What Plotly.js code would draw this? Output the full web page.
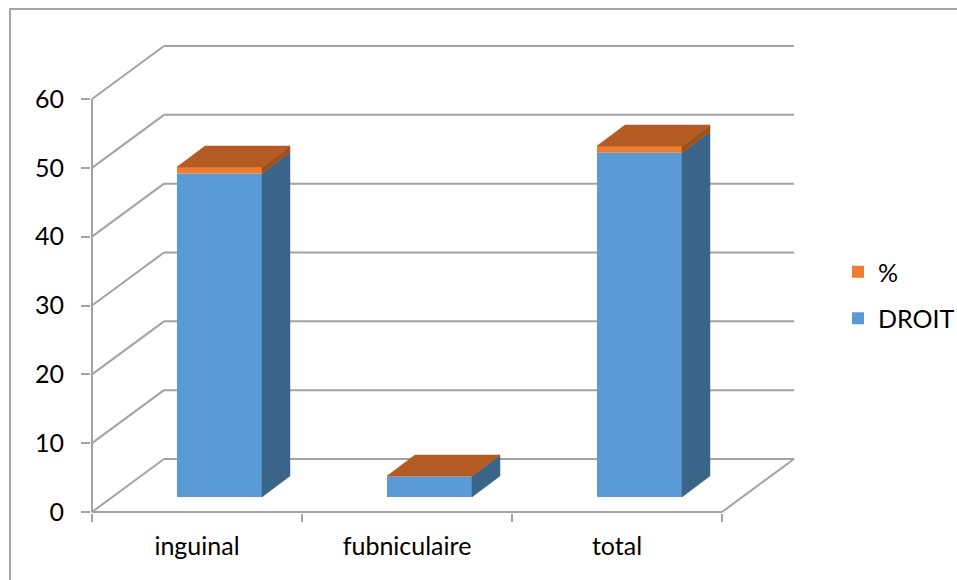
<!DOCTYPE html>
<html><head><meta charset="utf-8">
<script src="https://cdn.plot.ly/plotly-3.0.1.min.js"></script>
<style>
html,body{margin:0;padding:0;background:#fff;overflow:hidden;}
#chart{position:absolute;left:0;top:0;width:957px;height:580px;}
#border{position:absolute;left:9px;top:8px;width:1000px;height:700px;border-left:2px solid #a6a6a6;border-top:2px solid #a6a6a6;pointer-events:none;}
</style></head><body>
<div id="chart"></div><div id="border"></div>
<script>
// ---- data ----
const categories = ['inguinal', 'fubniculaire', 'total'];
const droit = [47, 3, 50];
const pct = [0.94, 0.06, 1];
const yTicks = [0, 10, 20, 30, 40, 50, 60];
const seriesNames = ['DROIT', '%'];

// ---- 3D projection constants (data units) ----
const PXX = 210, PXY = 6.883;           // pixels per category / per unit
const DEPTH_X = 72 / PXX, DEPTH_Y = 53 / PXY;   // wall depth
const FACE_X = 22.5 / PXX, FACE_Y = 15 / PXY;   // bar front face offset
const BAR_W = 85 / PXX;
const BAR_DX = 28 / PXX, BAR_DY = 21 / PXY;     // bar depth
const N = categories.length;

const colFrontBlue = '#5B9BD5', colSideBlue = '#3B6588';
const colFrontOrange = '#ED7D31', colSideOrange = '#9E501D', colTop = '#B35B22';
const gridCol = '#a3a3a3';

// ---- wall / floor shapes ----
const shapes = [];
const L = (x0, y0, x1, y1) => ({type: 'line', xref: 'x', yref: 'y', x0, y0, x1, y1, layer: 'below', line: {color: gridCol, width: 2}});
yTicks.forEach(v => {
  shapes.push(L(DEPTH_X, v + DEPTH_Y, N + DEPTH_X, v + DEPTH_Y));
  shapes.push(L(0, v, DEPTH_X, v + DEPTH_Y));
});
shapes.push(L(0, 0, N, 0));
shapes.push(L(N, 0, N + DEPTH_X, DEPTH_Y));
shapes.push(L(0, 0, 0, yTicks[yTicks.length - 1]));

// ---- bar geometry ----
const centers = categories.map((c, i) => i + 0.5 + FACE_X);
const baseDroit = droit.map(() => FACE_Y);
const basePct = droit.map(v => FACE_Y + v);

function sidePoly(lo, hi) {
  const xs = [], ys = [];
  centers.forEach((c, i) => {
    const xr = c + BAR_W / 2;
    xs.push(xr, xr + BAR_DX, xr + BAR_DX, xr, xr, null);
    ys.push(lo[i], lo[i] + BAR_DY, hi[i] + BAR_DY, hi[i], lo[i], null);
  });
  return {xs, ys};
}
const topVals = droit.map((v, i) => FACE_Y + v + pct[i]);
const sideB = sidePoly(baseDroit, basePct);
const sideO = sidePoly(basePct, topVals);
const topX = [], topY = [];
centers.forEach((c, i) => {
  const xl = c - BAR_W / 2, xr = c + BAR_W / 2, t = topVals[i];
  topX.push(xl, xr, xr + BAR_DX, xl + BAR_DX, xl, null);
  topY.push(t, t, t + BAR_DY, t + BAR_DY, t, null);
});

const poly = (xs, ys, col) => ({type: 'scatter', mode: 'lines', x: xs, y: ys, fill: 'toself', fillcolor: col,
  line: {width: 0.5, color: col}, showlegend: false, hoverinfo: 'skip'});

const traces = [
  {type: 'bar', name: seriesNames[0], x: centers, y: droit, base: baseDroit, width: BAR_W,
   marker: {color: colFrontBlue, line: {width: 0}}, legendgroup: 'a', legendrank: 2, hoverinfo: 'skip'},
  {type: 'bar', name: seriesNames[1], x: centers, y: pct, base: basePct, width: BAR_W,
   marker: {color: colFrontOrange, line: {width: 0}}, legendgroup: 'b', legendrank: 1, hoverinfo: 'skip'},
  poly(sideB.xs, sideB.ys, colSideBlue),
  poly(sideO.xs, sideO.ys, colSideOrange),
  poly(topX, topY, colTop)
];

const FONT = 'Lato, "Open Sans", sans-serif';
const FS = 25;
const plotL = 91, plotR = 800, plotT = 38, plotB = 513;
const layout = {
  width: 957, height: 580, autosize: false,
  margin: {l: plotL, r: 957 - plotR, t: plotT, b: 580 - plotB, pad: 0},
  paper_bgcolor: '#fff', plot_bgcolor: 'rgba(0,0,0,0)',
  font: {family: FONT, size: FS, color: '#000'},
  barmode: 'overlay',
  showlegend: true,
  legend: {xref: 'container', yref: 'container', x: 838 / 957, y: 1 - 249 / 580, xanchor: 'left', yanchor: 'top',
    traceorder: 'grouped', tracegroupgap: 11, font: {family: FONT, size: FS, color: '#000'}, bgcolor: 'rgba(0,0,0,0)'},
  xaxis: {range: [-1 / PXX, -1 / PXX + (plotR - plotL) / PXX], tickmode: 'array', tickvals: categories.map((c, i) => i + 0.5),
    ticktext: categories, ticks: '', showgrid: false, zeroline: false, showline: false, fixedrange: true,
    ticklabelstandoff: 16,
    minor: {tickmode: 'array', tickvals: categories.map((c, i) => i).concat([N]), ticks: 'outside', ticklen: 8, tickwidth: 2, tickcolor: gridCol, showgrid: false}},
  yaxis: {range: [-1 / PXY, -1 / PXY + (plotB - plotT) / PXY], tickmode: 'array', tickvals: yTicks, ticks: 'outside',
    ticklen: 9, tickwidth: 2, tickcolor: gridCol, showgrid: false, zeroline: false, showline: false, fixedrange: true,
    ticklabelstandoff: 12},
  shapes: shapes
};
Plotly.newPlot('chart', traces, layout, {displayModeBar: false, staticPlot: true});
</script>
</body></html>
